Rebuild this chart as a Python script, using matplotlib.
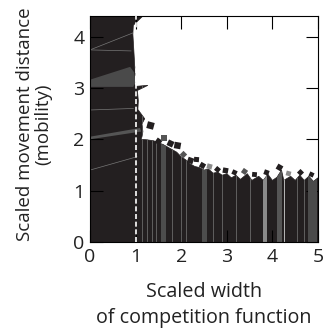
import numpy as np
import matplotlib
matplotlib.use("Agg")
import matplotlib.pyplot as plt
from matplotlib.patches import Polygon

plt.rcParams['font.family'] = ['Open Sans', 'DejaVu Sans']

# outline of the dark region (clockwise from origin)
outline_x = [0, 0, 1.16, 0.95, 0.94, 0.96, 0.98, 0.99, 0.97, 1.0, 1.27, 1.04, 1.06, 1.05,
             1.2, 1.14, 1.16, 1.14, 1.12, 1.25, 1.4, 1.5, 1.6, 1.7, 1.8, 1.9, 2.0, 2.1,
             2.2, 2.3, 2.4, 2.5, 2.6, 2.7, 2.8, 2.9, 3.0, 3.1, 3.2, 3.3, 3.45, 3.55, 3.7,
             3.8, 3.9, 4.0, 4.1, 4.2, 4.25, 4.4, 4.5, 4.6, 4.7, 4.8, 4.9, 5.0, 5.0]
outline_y = [0, 4.4, 4.4, 4.22, 4.05, 3.75, 3.45, 3.3, 3.1, 3.03, 3.05, 2.95, 2.75, 2.58,
             2.4, 2.3, 2.15, 2.05, 2.0, 1.99, 1.97, 1.93, 1.9, 1.85, 1.8, 1.75, 1.66, 1.6,
             1.52, 1.47, 1.45, 1.4, 1.42, 1.34, 1.36, 1.3, 1.33, 1.25, 1.3, 1.22, 1.33, 1.2,
             1.28, 1.2, 1.32, 1.2, 1.26, 1.4, 1.2, 1.28, 1.2, 1.3, 1.2, 1.28, 1.18, 1.25, 0]

# flakes above the boundary
flake_x = [1.32, 1.49, 1.62, 1.75, 1.9, 2.05, 2.19, 2.33, 2.45, 2.62, 2.78, 2.95, 3.15,
           3.38, 3.6, 3.85, 4.15, 4.35, 4.6, 4.85]
flake_y = [2.28, 1.97, 2.02, 1.93, 1.89, 1.72, 1.6, 1.62, 1.5, 1.48, 1.42, 1.4, 1.36,
           1.38, 1.33, 1.36, 1.46, 1.35, 1.36, 1.33]
flake_s = [50, 34, 30, 38, 44, 28, 36, 26, 30, 28, 26, 30, 24, 28, 24, 26, 34, 24, 26, 22]
flake_ang = [30, 10, 45, 20, 35, 0, 25, 40, 15, 30, 5, 35, 20, 10, 40, 25, 15, 30, 0, 20]
flake_col = ['#231f20', '#231f20', '#555555', '#231f20', '#231f20', '#555555', '#231f20',
             '#231f20', '#231f20', '#8a8a8a', '#231f20', '#231f20', '#231f20', '#555555',
             '#231f20', '#231f20', '#231f20', '#8a8a8a', '#231f20', '#231f20']

# wide gray stripes in the lower block
stripe_lo = [1.56, 2.45, 3.79, 4.10, 4.78]
stripe_hi = [1.67, 2.57, 3.88, 4.20, 4.98]
stripe_col = ['#4d4d4d', '#4d4d4d', '#8a8a8a', '#555555', '#4a4a4a']

# thin gray stripes
thin_x = [1.15, 1.25, 1.35, 1.45, 1.8, 2.0, 2.1, 2.7, 2.9, 3.2, 3.5, 4.25, 4.55, 4.7]
thin_col = ['#6a6a6a'] * 11 + ['#cfcfcf', '#6a6a6a', '#6a6a6a']

# gray wedges on the left
wedge1_x = [0, 0, 0.88, 0.97, 0.99, 0.95]
wedge1_y = [3.02, 3.16, 3.41, 3.3, 3.1, 3.02]
wedge2_x = [0, 0, 1.1, 1.12]
wedge2_y = [2.0, 2.05, 2.22, 2.15]

# thin edge lines
seg_x0 = [0, 0, 0, 0]
seg_y0 = [3.74, 2.57, 1.4, 3.74]
seg_x1 = [0.94, 0.95, 1.03, 0.9]
seg_y1 = [4.07, 2.6, 1.66, 3.72]

fill_col = '#231f20'

fig = plt.figure(figsize=(3.26, 3.32), dpi=100)
ax = fig.add_axes([90 / 326, 90 / 332, 228 / 326, 226 / 332])

region = Polygon(np.column_stack([outline_x, outline_y]), closed=True,
                 facecolor=fill_col, edgecolor=fill_col, lw=0.5, zorder=1)
ax.add_patch(region)

for lo, hi, c in zip(stripe_lo, stripe_hi, stripe_col):
    sp = ax.axvspan(lo, hi, color=c, lw=0, zorder=2)
    sp.set_clip_path(region)
for xv, c in zip(thin_x, thin_col):
    ln = ax.axvline(xv, color=c, lw=0.6, zorder=2)
    ln.set_clip_path(region)

ax.add_patch(Polygon(np.column_stack([wedge1_x, wedge1_y]), closed=True,
                     facecolor='#4a4a4a', lw=0, zorder=2))
ax.add_patch(Polygon(np.column_stack([wedge2_x, wedge2_y]), closed=True,
                     facecolor='#555555', lw=0, zorder=2))
for a, b, c, d in zip(seg_x0, seg_y0, seg_x1, seg_y1):
    ax.plot([a, c], [b, d], color='#777777', lw=0.5, zorder=2)

for fx, fy, fs, fa, fc in zip(flake_x, flake_y, flake_s, flake_ang, flake_col):
    ax.scatter([fx], [fy], s=fs, marker=(4, 0, fa), color=fc, lw=0, zorder=2)

ax.axvline(1.0, color='white', lw=1.2, dashes=(3, 1.6), zorder=3)

ax.set_xlim(0, 5)
ax.set_ylim(0, 4.4)
ax.set_xticks([0, 1, 2, 3, 4, 5])
ax.set_yticks([0, 1, 2, 3, 4])
ax.tick_params(direction='in', length=9, width=0.8, labelsize=14,
               top=True, right=True, pad=4, labelcolor='#222222')
for t in ax.xaxis.get_major_ticks():
    t.tick1line.set_color('white')
for i, t in enumerate(ax.yaxis.get_major_ticks()):
    t.tick1line.set_color('white')
    if i <= 1:
        t.tick2line.set_color('white')
for s in ax.spines.values():
    s.set_linewidth(0.8)

ax.set_xlabel('Scaled width\nof competition function', fontsize=14.2,
              color='#222222', linespacing=1.45)
ax.xaxis.set_label_coords(0.5, -0.175)
ax.set_ylabel('Scaled movement distance\n(mobility)', fontsize=13.5,
              color='#222222', linespacing=1.0)
ax.yaxis.set_label_coords(-0.165, 0.52)

fig.savefig('out.png', dpi=100)
